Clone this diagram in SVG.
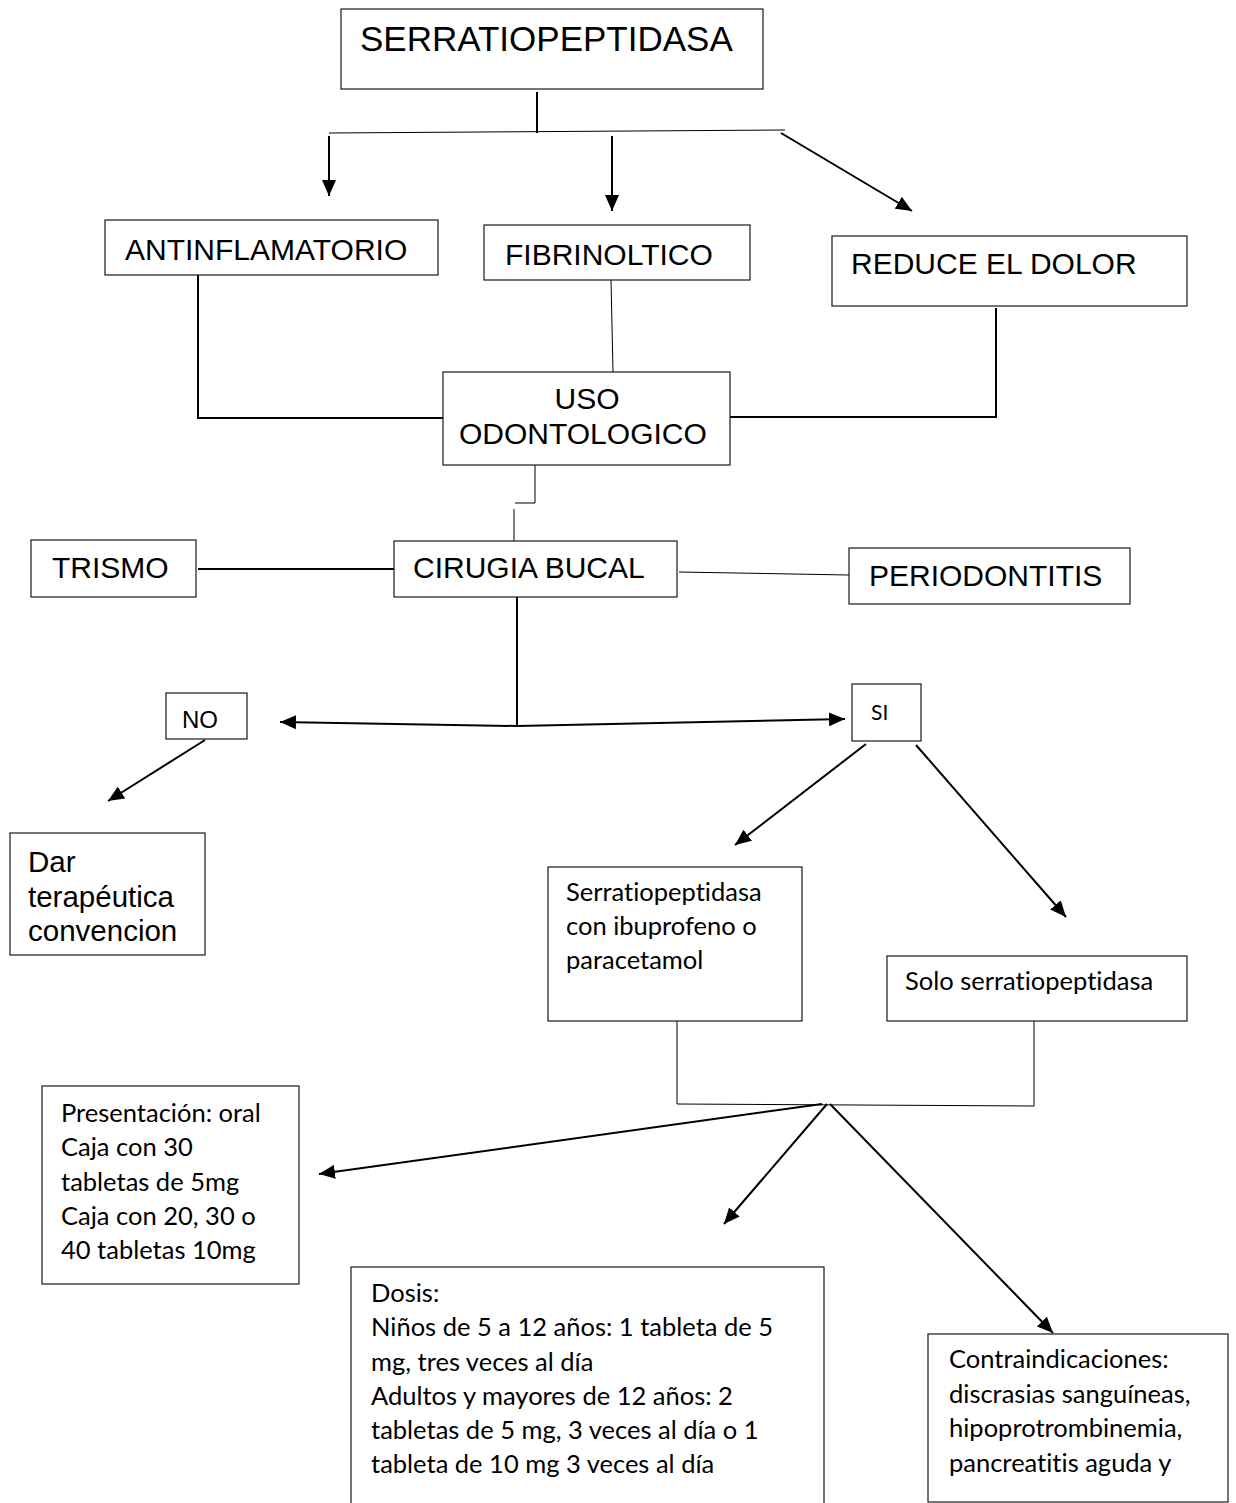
<svg xmlns="http://www.w3.org/2000/svg" width="1236" height="1503" viewBox="0 0 1236 1503">
<defs>
<marker id="ah" markerUnits="userSpaceOnUse" markerWidth="16" markerHeight="14" refX="16" refY="7" orient="auto">
<path d="M0,0 L16,7 L0,14 z" fill="#000"/>
</marker>
<style>
.box{fill:#fff;stroke:#1a1a1a;stroke-width:1.2}
.a{font-family:"Liberation Sans",Arial,sans-serif;fill:#000}
.c{font-family:Lato,"Open Sans",sans-serif;fill:#000;font-size:25.5px;font-variant-ligatures:none;font-feature-settings:"liga" 0,"clig" 0}
.ln{fill:none;stroke:#000;stroke-width:2}
.th{fill:none;stroke:#000;stroke-width:1}
.ar{marker-end:url(#ah)}
</style>
</defs>
<rect width="1236" height="1503" fill="#fff"/>
<g id="connectors">
<path class="ln" d="M537,92 L537,133"/>
<path class="th" d="M329,133 L785,130" stroke="#555" stroke-width="1.5"/>
<path class="ln ar" d="M329,136 L329,196"/>
<path class="ln ar" d="M612,136 L612,211"/>
<path class="ln ar" d="M781,133 L912,211"/>
<path class="ln" d="M198,275 L198,418 L443,418"/>
<path class="th" d="M611,280 L613,372"/>
<path class="ln" d="M996,308 L996,417 L730,417"/>
<path class="th" stroke-width="1.5" d="M535,465 L535,503 L515,503"/>
<path class="th" stroke-width="1.5" d="M514,509 L514,541"/>
<path class="ln" d="M198,569 L394,569"/>
<path class="th" stroke-width="1.2" d="M679,572 L849,575"/>
<path class="ln" d="M517,597 L517,726"/>
<path class="ln ar" stroke-width="2.5" d="M517,726 L280,722"/>
<path class="ln ar" stroke-width="2.5" d="M517,726 L845,719"/>
<path class="ln ar" stroke-width="2.5" d="M205,740 L108,801"/>
<path class="ln ar" d="M866,744 L735,845"/>
<path class="ln ar" stroke-width="1.5" d="M916,745 L1066,917"/>
<path class="th" d="M677,1021 L677,1104 L1034,1106 L1034,1021"/>
<path class="ln ar" stroke-width="2.5" d="M822,1104 L319,1174"/>
<path class="ln ar" d="M827,1104 L724,1224"/>
<path class="ln ar" stroke-width="1.5" d="M830,1104 L1053,1333"/>
</g>
<g id="n-serratio"><rect class="box" x="341" y="9" width="422" height="80"/><text class="a" x="360" y="51" font-size="35">SERRATIOPEPTIDASA</text></g>
<g id="n-antinf"><rect class="box" x="105" y="220" width="333" height="55"/><text class="a" x="125" y="260" font-size="30">ANTINFLAMATORIO</text></g>
<g id="n-fibr"><rect class="box" x="484" y="225" width="266" height="55"/><text class="a" x="505" y="265" font-size="30">FIBRINOLTICO</text></g>
<g id="n-reduce"><rect class="box" x="832" y="236" width="355" height="70"/><text class="a" x="851" y="274" font-size="30">REDUCE EL DOLOR</text></g>
<g id="n-uso"><rect class="box" x="443" y="372" width="287" height="93"/><text class="a" x="587" y="409" font-size="30" text-anchor="middle">USO</text><text class="a" x="459" y="444" font-size="30">ODONTOLOGICO</text></g>
<g id="n-trismo"><rect class="box" x="31" y="540" width="165" height="57"/><text class="a" x="52" y="578" font-size="30">TRISMO</text></g>
<g id="n-cirugia"><rect class="box" x="394" y="541" width="283" height="56"/><text class="a" x="413" y="578" font-size="30">CIRUGIA BUCAL</text></g>
<g id="n-perio"><rect class="box" x="849" y="548" width="281" height="56"/><text class="a" x="869" y="586" font-size="30">PERIODONTITIS</text></g>
<g id="n-no"><rect class="box" x="166" y="693" width="81" height="46"/><text class="a" x="182" y="728" font-size="24">NO</text></g>
<g id="n-si"><rect class="box" x="852" y="684" width="69" height="57"/><text class="c" x="871" y="720" style="font-size:21px">SI</text></g>
<g id="n-dar"><rect class="box" x="10" y="833" width="195" height="122"/><text class="a" font-size="29.5"><tspan x="28" y="872">Dar</tspan><tspan x="28" y="907">terapéutica</tspan><tspan x="28" y="941">convencion</tspan></text></g>
<g id="n-con"><rect class="box" x="548" y="867" width="254" height="154"/><text class="c"><tspan x="566" y="901">Serratiopeptidasa</tspan><tspan x="566" y="935">con ibuprofeno o</tspan><tspan x="566" y="969">paracetamol</tspan></text></g>
<g id="n-solo"><rect class="box" x="887" y="956" width="300" height="65"/><text class="c" x="905" y="990">Solo serratiopeptidasa</text></g>
<g id="n-pres"><rect class="box" x="42" y="1086" width="257" height="198"/><text class="c"><tspan x="61" y="1122">Presentación: oral</tspan><tspan x="61" y="1156">Caja con 30</tspan><tspan x="61" y="1191">tabletas de 5mg</tspan><tspan x="61" y="1225">Caja con 20, 30 o</tspan><tspan x="61" y="1259">40 tabletas 10mg</tspan></text></g>
<g id="n-dosis"><rect class="box" x="351" y="1267" width="473" height="250"/><text class="c"><tspan x="371" y="1302">Dosis:</tspan><tspan x="371" y="1336">Niños de 5 a 12 años: 1 tableta de 5</tspan><tspan x="371" y="1371">mg, tres veces al día</tspan><tspan x="371" y="1405">Adultos y mayores de 12 años: 2</tspan><tspan x="371" y="1439">tabletas de 5 mg, 3 veces al día o 1</tspan><tspan x="371" y="1473">tableta de 10 mg 3 veces al día</tspan></text></g>
<g id="n-contra"><rect class="box" x="928" y="1334" width="300" height="168"/><text class="c"><tspan x="949" y="1368">Contraindicaciones:</tspan><tspan x="949" y="1403">discrasias sanguíneas,</tspan><tspan x="949" y="1437">hipoprotrombinemia,</tspan><tspan x="949" y="1472">pancreatitis aguda y</tspan></text></g>
</svg>
